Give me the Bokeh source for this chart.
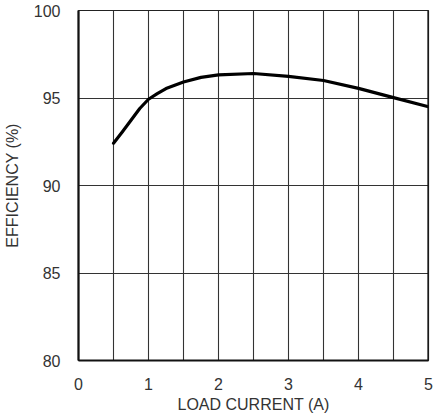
from bokeh.plotting import figure
from bokeh.models import FixedTicker, Range1d, ColumnDataSource, Span
from bokeh.embed import file_html
from bokeh.resources import INLINE

load_current = [0.5, 0.625, 0.75, 0.875, 1.0, 1.125, 1.25, 1.5, 1.75, 2.0, 2.5, 3.0, 3.5, 4.0, 4.5, 5.0]
efficiency = [92.42, 93.06, 93.73, 94.4, 94.93, 95.25, 95.54, 95.91, 96.18, 96.32, 96.4, 96.24, 96.0, 95.55, 95.02, 94.5]

x_ticks = [0, 1, 2, 3, 4, 5]
y_ticks = [80, 85, 90, 95, 100]
x_grid = [0.5, 1, 1.5, 2, 2.5, 3, 3.5, 4, 4.5]
y_grid = [85, 90, 95]

FONT = "Liberation Sans"
TXT = "#333333"

p = figure(frame_width=350, frame_height=350, output_backend="svg", toolbar_location=None,
           x_range=Range1d(0, 5), y_range=Range1d(80, 100),
           min_border_left=72, min_border_right=5, min_border_top=10, min_border_bottom=50)

p.background_fill_color = "white"
p.border_fill_color = "white"
p.outline_line_color = "#222222"
p.outline_line_width = 1.2

for ax, ticks in ((p.xaxis[0], x_ticks), (p.yaxis[0], y_ticks)):
    ax.ticker = FixedTicker(ticks=ticks)
    ax.major_tick_line_color = None
    ax.minor_tick_line_color = None
    ax.axis_line_color = "#111111"
    ax.axis_line_width = 2.2
    ax.major_label_text_font = FONT
    ax.major_label_text_font_size = "16px"
    ax.major_label_text_color = TXT
    ax.axis_label_text_font = FONT
    ax.axis_label_text_font_size = "16px"
    ax.axis_label_text_font_style = "normal"
    ax.axis_label_text_color = TXT

p.xaxis.axis_label = "LOAD CURRENT (A)"
p.yaxis.axis_label = "EFFICIENCY (%)"
p.xaxis.major_label_standoff = 11
p.yaxis.major_label_standoff = 12
p.xaxis.axis_label_standoff = 3
p.yaxis.axis_label_standoff = 10

p.add_layout(Span(location=5, dimension="height", line_color="#111111", line_width=2.2))

p.xgrid.ticker = FixedTicker(ticks=x_grid)
p.ygrid.ticker = FixedTicker(ticks=y_grid)
p.xgrid.grid_line_color = "#333333"
p.ygrid.grid_line_color = "#333333"
p.xgrid.grid_line_width = 1.1
p.ygrid.grid_line_width = 1.1

src = ColumnDataSource(dict(x=load_current, y=efficiency))
p.line("x", "y", source=src, line_color="black", line_width=3.2, line_join="round", line_cap="round")

open("out.html", "w").write(file_html(p, INLINE))
